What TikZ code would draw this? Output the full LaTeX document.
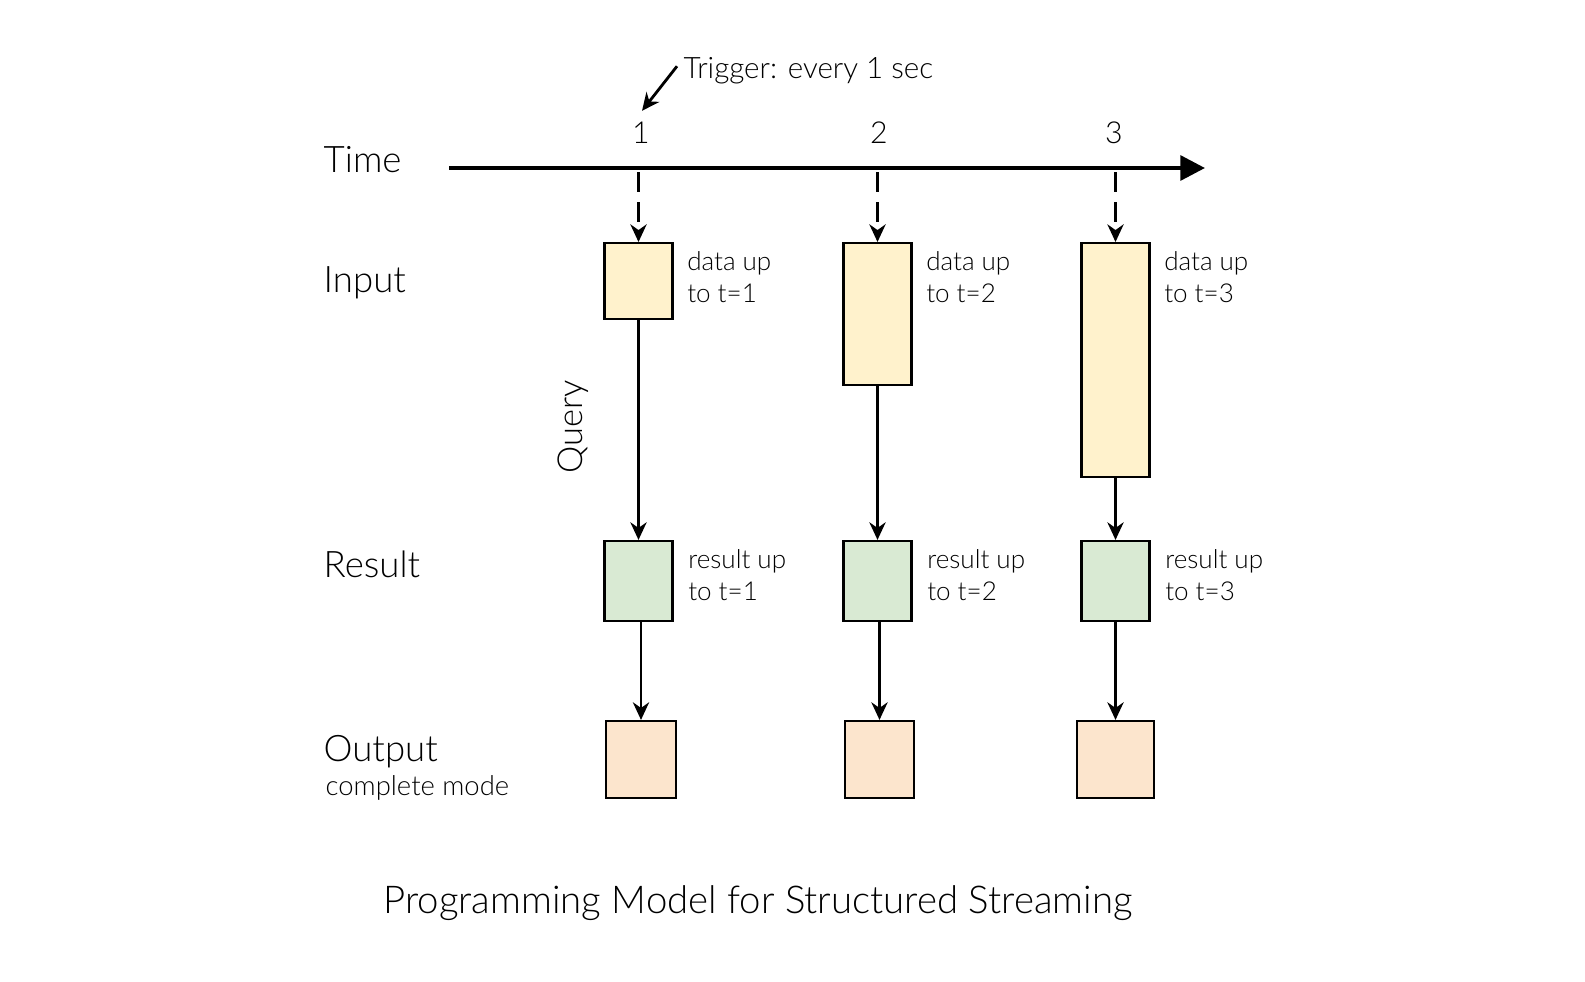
\documentclass[tikz,border=0pt]{standalone}
\usepackage{fontspec}
\IfFontExistsTF{Lato Light}{\setmainfont{Lato Light}}{\setmainfont{Lato}}
\usepackage{tikz}
\usetikzlibrary{arrows.meta,positioning,calc}

\definecolor{inputfill}{HTML}{FFF2CC}
\definecolor{resultfill}{HTML}{D9EAD3}
\definecolor{outputfill}{HTML}{FCE5CD}

\tikzset{
    rowlabel/.style={anchor=base west, inner sep=0pt, font=\fontsize{10.4}{12}\selectfont},
    note/.style={anchor=north west, align=left, inner sep=0pt, font=\fontsize{7.4}{9.1}\selectfont},
    box/.style={draw, line width=0.6pt, inner sep=0pt},
    flow/.style={-{Stealth[length=5pt,width=4.6pt,inset=1.6pt]}, line width=0.8pt},
    fire/.style={flow, dash pattern=on 0.2cm off 0.1cm},
    axis/.style={-{Triangle[length=7pt,width=7pt]}, line width=1.2pt}
}

\begin{document}
\begin{tikzpicture}[x=0.01cm, y=-0.01cm]
        \useasboundingbox (0,0) rectangle (1585,981);

        % Rows
        \node[rowlabel] (time) at (323,172) {Time};
        \node[rowlabel] (input) at (323,292) {Input};
        \node[rowlabel] (result) at (323,577) {Result};
        \node[rowlabel] (output) at (323,761) {Output};
        \node[rowlabel, font=\fontsize{7.8}{10}\selectfont] (mode) at (325,795) {complete mode};

        % Time axis
        \coordinate (axs) at (449,168);
        \coordinate (axe) at (1205,168);
        \draw[axis] (axs) -- (axe);
        \foreach \i/\x in {1/641,2/879,3/1114}
            \node[anchor=base, inner sep=0pt, font=\fontsize{8.6}{10}\selectfont] (tick\i) at (\x,143) {\i};

        % Trigger
        \node[anchor=base west, inner sep=0pt, font=\fontsize{8.4}{10}\selectfont] (trig) at (683,78) {Trigger: every 1 sec};
        \draw[flow] ([xshift=-0.06cm,yshift=0.04cm]trig.west) -- ([xshift=0.01cm,yshift=0.1cm]tick1.north);

        % Columns
        \foreach \i/\x/\h/\ox/\ow in {1/638.5/0.76/641/0.70, 2/877.5/1.42/879.5/0.69, 3/1115.5/2.34/1115.5/0.77} {
            \node[box, fill=inputfill, anchor=north, minimum width=0.68cm, minimum height=\h cm] (in\i) at (\x,242) {};
            \node[box, fill=resultfill, minimum width=0.68cm, minimum height=0.8cm] (res\i) at (\x,581) {};
            \node[box, fill=outputfill, minimum width=\ow cm, minimum height=0.77cm] (out\i) at (\ox,759.5) {};
            \node[note] (innote\i) at ($(in\i.north east)+(13,9)$) {data up\\to t=\i};
            \node[note] (resnote\i) at ($(res\i.north east)+(14,9)$) {result up\\to t=\i};
            \draw[fire] ([yshift=-0.04cm]in\i.north |- axs) -- (in\i.north);
            \draw[flow] (in\i.south) -- (res\i.north);
            \draw[flow] (out\i.north |- res\i.south) -- (out\i.north);
        }

        % Query
        \node[rotate=90, font=\fontsize{9.8}{12}\selectfont] (query) at (573,427) {Query};

        % Caption
        \node[anchor=base, inner sep=0pt, font=\fontsize{10.9}{13}\selectfont] (caption) at (758,913) {Programming Model for Structured Streaming};
\end{tikzpicture}
\end{document}
